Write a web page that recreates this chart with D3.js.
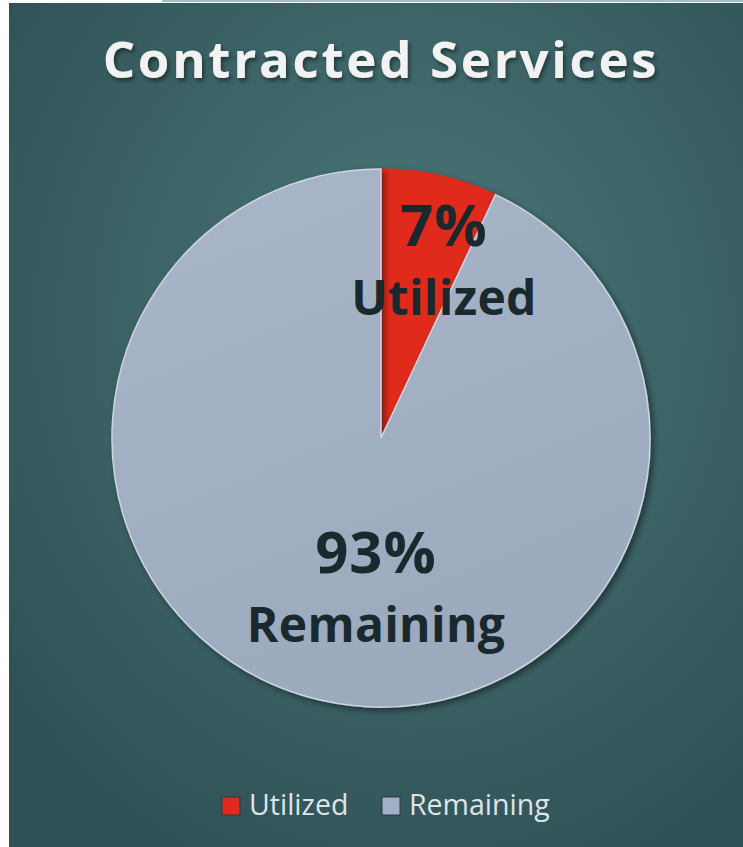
<!DOCTYPE html>
<html>
<head>
<meta charset="utf-8">
<script src="https://cdn.jsdelivr.net/npm/d3@7"></script>
<style>
  html, body { margin: 0; padding: 0; background: #fff; }
  svg { display: block; }
</style>
</head>
<body>
<div id="chart"></div>
<script>
'use strict'

const W = 743
const H = 847
const FONT = '"Open Sans", Lato, sans-serif'

// data
const CATEGORIES = ['Utilized', 'Remaining']
const VALUES = [7, 93]
const COLORS = ['#e0291f', '#a2afc4']
const TITLE = 'Contracted Services'

const CENTER = { x: 381, y: 438 }
const RADIUS = 269

const svg = d3.select('#chart').append('svg')
  .attr('width', W)
  .attr('height', H)

const defs = svg.append('defs')

const bg = defs.append('radialGradient')
  .attr('id', 'bg')
  .attr('cx', '55%').attr('cy', '38%').attr('r', '70%')
bg.append('stop').attr('offset', '0%').attr('stop-color', '#4b7879')
bg.append('stop').attr('offset', '100%').attr('stop-color', '#2f5156')

const greyGrad = defs.append('linearGradient')
  .attr('id', 'grey').attr('x1', '0').attr('y1', '0').attr('x2', '0.4').attr('y2', '1')
greyGrad.append('stop').attr('offset', '0%').attr('stop-color', '#a9b6ca')
greyGrad.append('stop').attr('offset', '100%').attr('stop-color', '#9caabe')

const shadow = defs.append('filter').attr('id', 'shadow')
  .attr('x', '-20%').attr('y', '-20%').attr('width', '140%').attr('height', '140%')
shadow.append('feDropShadow')
  .attr('dx', 3).attr('dy', 3).attr('stdDeviation', 3)
  .attr('flood-color', '#000').attr('flood-opacity', 0.45)

const textShadow = defs.append('filter').attr('id', 'tshadow')
textShadow.append('feDropShadow')
  .attr('dx', 2).attr('dy', 3).attr('stdDeviation', 2)
  .attr('flood-color', '#000').attr('flood-opacity', 0.45)

// panel
svg.append('rect')
  .attr('x', 9).attr('y', 3)
  .attr('width', W - 9).attr('height', H - 3)
  .attr('fill', 'url(#bg)')
svg.append('line')
  .attr('x1', 162).attr('x2', W).attr('y1', 1).attr('y2', 1)
  .attr('stroke', '#9fc0c4').attr('stroke-width', 2)

// title
svg.append('text')
  .attr('x', 381).attr('y', 78)
  .attr('text-anchor', 'middle')
  .attr('fill', '#f2f2f2')
  .attr('filter', 'url(#tshadow)')
  .style('font-family', FONT)
  .style('font-weight', 'bold')
  .style('font-size', '51px')
  .style('letter-spacing', '2.7px')
  .text(TITLE)

// pie
const pie = d3.pie().sort(null).value(d => d)
const arcs = pie(VALUES)
const arc = d3.arc().innerRadius(0).outerRadius(RADIUS)

const g = svg.append('g')
  .attr('transform', `translate(${CENTER.x},${CENTER.y})`)

g.selectAll('path.slice')
  .data(arcs)
  .join('path')
  .attr('class', 'slice')
  .attr('d', arc)
  .attr('fill', (d, i) => i === 1 ? 'url(#grey)' : COLORS[i])
  .attr('stroke', (d, i) => i === 1 ? '#cdd6e2' : '#c9332a')
  .attr('stroke-width', 1.5)
  .attr('filter', 'url(#shadow)')

// labels
const labelPos = [
  { x: 444, y: 246, y2: 315 },
  { x: 376, y: 573, y2: 642 }
]

arcs.forEach((d, i) => {
  const p = labelPos[i]
  const t = svg.append('text')
    .attr('text-anchor', 'middle')
    .attr('fill', '#19292d')
    .style('font-family', FONT)
    .style('font-weight', 'bold')
  t.append('tspan')
    .attr('x', p.x).attr('y', p.y)
    .style('font-size', '58px')
    .style('letter-spacing', '1px')
    .text(d.data + '%')
  t.append('tspan')
    .attr('x', p.x).attr('y', p.y2)
    .style('font-size', '48px')
    .style('letter-spacing', '0.3px')
    .text(CATEGORIES[i])
})

// legend
const legendX = [222, 382]
const legend = svg.append('g')
CATEGORIES.forEach((c, i) => {
  legend.append('rect')
    .attr('x', legendX[i]).attr('y', 797)
    .attr('width', 18).attr('height', 18)
    .attr('fill', COLORS[i])
    .attr('stroke', '#2a3c40').attr('stroke-width', 1)
  legend.append('text')
    .attr('x', legendX[i] + 27).attr('y', 815)
    .attr('fill', '#dfe5e7')
    .style('font-family', FONT)
    .style('font-size', '28.5px')
    .text(c)
})
</script>
</body>
</html>
